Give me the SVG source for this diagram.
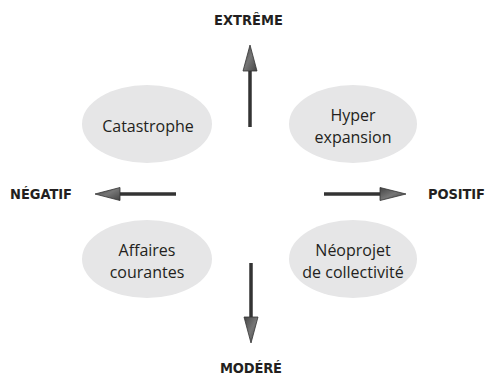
<svg xmlns="http://www.w3.org/2000/svg" width="488" height="375" viewBox="0 0 488 375">
  <style>
    .node ellipse { fill: #e6e6e7; }
    .node text { font-family: "Open Sans", "Noto Sans", sans-serif; font-size: 16px; fill: #231f20; text-anchor: middle; }
    .axis { font-family: "Liberation Sans Narrow", "DejaVu Sans Condensed", "Liberation Sans", sans-serif; font-weight: bold; font-size: 14.5px; fill: #231f20; }
    .shaft { stroke: #333333; stroke-width: 3.5; fill: none; }
    .head { fill: url(#headFill); stroke: #333333; stroke-width: 0.8; stroke-linejoin: miter; }
  </style>
  <defs>
    <linearGradient id="headFill" x1="0" y1="0" x2="1" y2="1">
      <stop offset="0" stop-color="#444444"/>
      <stop offset="0.5" stop-color="#767676"/>
      <stop offset="1" stop-color="#444444"/>
    </linearGradient>
  </defs>

  <rect width="488" height="375" fill="#ffffff"/>

  <!-- axis labels -->
  <text class="axis" x="214" y="25" textLength="69" lengthAdjust="spacing">EXTRÊME</text>
  <text class="axis" x="10" y="199" textLength="62" lengthAdjust="spacing">NÉGATIF</text>
  <text class="axis" x="428" y="199" textLength="57" lengthAdjust="spacing">POSITIF</text>
  <text class="axis" x="220" y="373" textLength="62" lengthAdjust="spacing">MODÉRÉ</text>

  <!-- quadrant nodes -->
  <g id="catastrophe" class="node">
    <ellipse cx="147" cy="124" rx="65" ry="39"/>
    <text x="148" y="132">Catastrophe</text>
  </g>
  <g id="hyper-expansion" class="node">
    <ellipse cx="353" cy="124" rx="64" ry="39"/>
    <text x="353" y="121">Hyper</text>
    <text x="353" y="143">expansion</text>
  </g>
  <g id="affaires-courantes" class="node">
    <ellipse cx="147" cy="259" rx="65" ry="39"/>
    <text x="147" y="256">Affaires</text>
    <text x="147" y="278">courantes</text>
  </g>
  <g id="neoprojet" class="node">
    <ellipse cx="353" cy="259" rx="64" ry="39"/>
    <text x="353" y="256">Néoprojet</text>
    <text x="353" y="278">de collectivité</text>
  </g>

  <!-- axis arrows -->
  <g id="connectors">
    <line class="shaft" x1="250" y1="127" x2="250" y2="68"/>
    <polygon class="head" points="250,45 257,71 243,71"/>

    <line class="shaft" x1="251" y1="263" x2="251" y2="320"/>
    <polygon class="head" points="251,343 258,317 244,317"/>

    <line class="shaft" x1="176" y1="194" x2="117" y2="194"/>
    <polygon class="head" points="95,194 120,187.5 120,200.5"/>

    <line class="shaft" x1="324" y1="194" x2="383" y2="194"/>
    <polygon class="head" points="406,194 380,187.5 380,200.5"/>
  </g>
</svg>
